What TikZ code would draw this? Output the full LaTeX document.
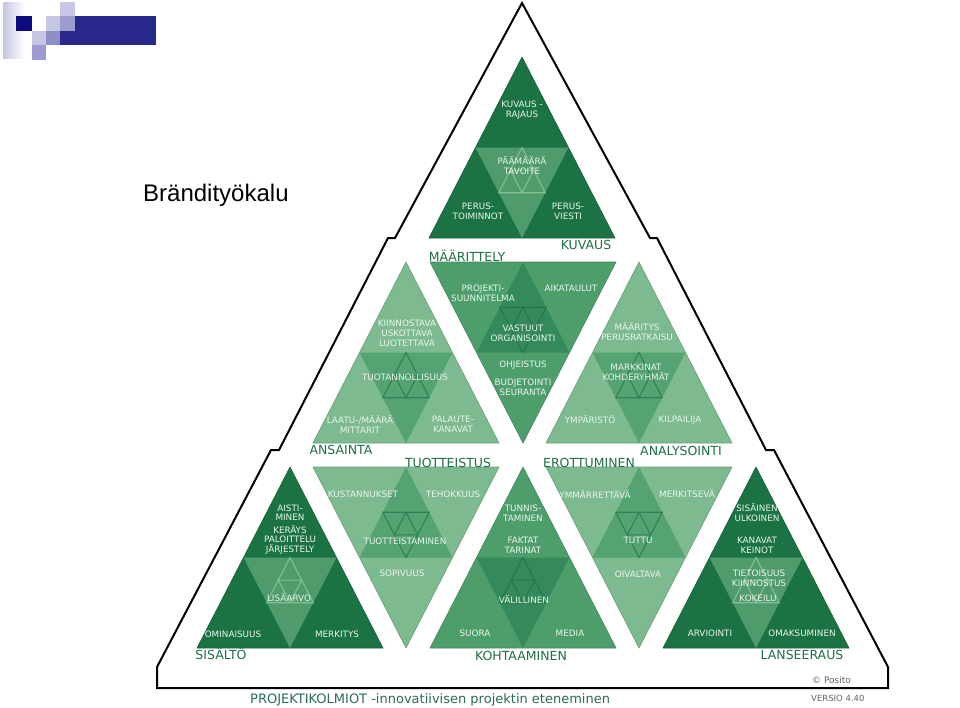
\documentclass[tikz,border=0pt]{standalone}
\usepackage{fontspec}
\setmainfont{DejaVu Sans}
\newfontfamily\arialf{Liberation Sans}
\definecolor{dk}{HTML}{1B7243}
\definecolor{dkc}{HTML}{4F9B6C}
\definecolor{dkl}{HTML}{82BF94}
\definecolor{md}{HTML}{4E9E6C}
\definecolor{mdc}{HTML}{348A5B}
\definecolor{mdl}{HTML}{25774A}
\definecolor{lt}{HTML}{7DBA8F}
\definecolor{ltc}{HTML}{55A272}
\definecolor{ltl}{HTML}{2F8253}
\definecolor{txt}{HTML}{EAF5EC}
\definecolor{lab}{HTML}{1F6F45}
\definecolor{capc}{HTML}{2C6A5C}
\definecolor{lgA}{HTML}{C6C6E5}
\definecolor{lgB}{HTML}{9C9CD0}
\definecolor{lgC}{HTML}{8F8FC8}
\definecolor{navy}{HTML}{0B0B7E}
\definecolor{barc}{HTML}{28288A}
\newcommand\TriUp[5]{%
  \fill[#3, draw=#3!85!black, line width=0.6pt] (#1,#2) -- ({#1-93},{#2+181}) -- ({#1+93},{#2+181}) -- cycle;
  \fill[#4] ({#1-46.5},{#2+90.5}) -- ({#1+46.5},{#2+90.5}) -- (#1,{#2+181}) -- cycle;
  \draw[#5, line width=1.1pt, line join=miter] (#1,{#2+90.5}) -- ({#1-23.25},{#2+135.75}) -- ({#1+23.25},{#2+135.75}) -- cycle
    ({#1-11.625},{#2+113.125}) -- ({#1+11.625},{#2+113.125}) -- (#1,{#2+135.75}) -- cycle;
}
\newcommand\TriDn[5]{%
  \fill[#3, draw=#3!85!black, line width=0.6pt] ({#1-93},#2) -- ({#1+93},#2) -- (#1,{#2+181}) -- cycle;
  \fill[#4] (#1,#2) -- ({#1-46.5},{#2+90.5}) -- ({#1+46.5},{#2+90.5}) -- cycle;
  \draw[#5, line width=1.1pt, line join=miter] ({#1-23.25},{#2+45.25}) -- ({#1+23.25},{#2+45.25}) -- (#1,{#2+90.5}) -- cycle
    (#1,{#2+45.25}) -- ({#1-11.625},{#2+67.875}) -- ({#1+11.625},{#2+67.875}) -- cycle;
}
\begin{document}
\begin{tikzpicture}[x=1pt,y=-1pt,
  intext/.style={text=txt, font=\fontsize{8.8}{10}\selectfont, align=center, inner sep=0pt},
  lbl/.style={text=lab, font=\fontsize{12.5}{14}\selectfont, anchor=base, inner sep=0pt}]
\useasboundingbox (0,0) rectangle (960,707);
\fill[white] (0,0) rectangle (960,707);
% logo
\fill[left color=lgA, right color=white] (3,2) rectangle (25,58);
\fill[navy] (16,16) rectangle (32,31);
\fill[lgA] (32,31) rectangle (46,45);
\fill[lgB] (32,45) rectangle (46,60);
\fill[lgA] (46,16) rectangle (60,31);
\fill[lgC] (46,31) rectangle (60,45);
\fill[lgA] (60,2) rectangle (75,16);
\fill[lgB] (60,16) rectangle (75,31);
\fill[barc] (75,16) rectangle (156,45);
\fill[barc] (60,31) rectangle (75,45);
\node[anchor=base west, inner sep=0pt, font=\arialf\fontsize{24}{28}\selectfont] (title) at (143,201) {Brändityökalu};
% outer frame
\draw[line width=2pt, line join=miter] (522,3) -- (395,238) -- (388,238) -- (279,450) -- (271,450) -- (157,667) -- (157,688) -- (888,688) -- (888,667) -- (774,450) -- (766,450) -- (657,238) -- (650,238) -- cycle;
% triangles
\TriUp{522}{57}{dk}{dkc}{dkl}
\TriUp{406}{262}{lt}{ltc}{ltl}
\TriDn{523}{262}{md}{mdc}{mdl}
\TriUp{639}{262}{lt}{ltc}{ltl}
\TriUp{290}{467}{dk}{dkc}{dkl}
\TriDn{406}{467}{lt}{ltc}{ltl}
\TriUp{523}{467}{md}{mdc}{mdl}
\TriDn{639}{467}{lt}{ltc}{ltl}
\TriUp{756}{467}{dk}{dkc}{dkl}
% KUVAUS texts
\node[intext] (a1) at (522,110) {KUVAUS -\\RAJAUS};
\node[intext] (a2) at (522,166) {PÄÄMÄÄRÄ\\TAVOITE};
\node[intext] (a3) at (478,211) {PERUS-\\TOIMINNOT};
\node[intext] (a4) at (568,211) {PERUS-\\VIESTI};
% MAARITTELY
\node[intext] (b1) at (483,293) {PROJEKTI-\\SUUNNITELMA};
\node[intext] (b2) at (571,288) {AIKATAULUT};
\node[intext] (b3) at (523,333) {VASTUUT\\ORGANISOINTI};
\node[intext] (b4) at (523,365) {OHJEISTUS};
\node[intext] (b5) at (523,387) {BUDJETOINTI\\SEURANTA};
% ANSAINTA
\node[intext] (c1) at (407,333) {KIINNOSTAVA\\USKOTTAVA\\LUOTETTAVA};
\node[intext] (c2) at (405,377) {TUOTANNOLLISUUS};
\node[intext] (c3) at (360,424) {LAATU-/MÄÄRÄ\\MITTARIT};
\node[intext] (c4) at (453,424) {PALAUTE-\\KANAVAT};
% ANALYSOINTI
\node[intext] (d1) at (637,332) {MÄÄRITYS\\PERUSRATKAISU};
\node[intext] (d2) at (636,372) {MARKKINAT\\KOHDERYHMÄT};
\node[intext] (d3) at (590,420) {YMPÄRISTÖ};
\node[intext] (d4) at (680,420) {KILPAILIJA};
% SISALTO
\node[intext] (e1) at (290,513) {AISTI-\\[-1.2pt]MINEN};
\node[intext] (e2) at (290,529.5) {KERÄYS};
\node[intext] (e3) at (290,545.5) {PALOITTELU\\JÄRJESTELY};
\node[intext] (e4) at (289,598) {LISÄARVO};
\node[intext] (e5) at (233,634) {OMINAISUUS};
\node[intext] (e6) at (337,634) {MERKITYS};
% TUOTTEISTUS
\node[intext] (f1) at (363,494) {KUSTANNUKSET};
\node[intext] (f2) at (453,494) {TEHOKKUUS};
\node[intext] (f3) at (405,541) {TUOTTEISTAMINEN};
\node[intext] (f4) at (402,573) {SOPIVUUS};
% KOHTAAMINEN
\node[intext] (g1) at (523,513) {TUNNIS-\\TAMINEN};
\node[intext] (g2) at (523,545) {FAKTAT\\TARINAT};
\node[intext] (g3) at (524,599) {VÄLILLINEN};
\node[intext] (g4) at (475,633) {SUORA};
\node[intext] (g5) at (570,633) {MEDIA};
% EROTTUMINEN
\node[intext] (h1) at (595,494) {YMMÄRRETTÄVÄ};
\node[intext] (h2) at (687,494) {MERKITSEVÄ};
\node[intext] (h3) at (638,540) {TUTTU};
\node[intext] (h4) at (638,574) {OIVALTAVA};
% LANSEERAUS
\node[intext] (i1) at (757,513) {SISÄINEN\\ULKOINEN};
\node[intext] (i2) at (757,545) {KANAVAT\\KEINOT};
\node[intext] (i3) at (759,578) {TIETOISUUS\\KIINNOSTUS};
\node[intext] (i4) at (758,598) {KOKEILU};
\node[intext] (i5) at (710,633) {ARVIOINTI};
\node[intext] (i6) at (802,633) {OMAKSUMINEN};
% section labels
\node[lbl] (L1) at (586,249) {KUVAUS};
\node[lbl] (L2) at (467,261) {MÄÄRITTELY};
\node[lbl] (L3) at (341,454) {ANSAINTA};
\node[lbl] (L4) at (448,467) {TUOTTEISTUS};
\node[lbl] (L5) at (589,467) {EROTTUMINEN};
\node[lbl] (L6) at (681,455) {ANALYSOINTI};
\node[lbl] (L7) at (221,659) {SISÄLTÖ};
\node[lbl] (L8) at (521,660) {KOHTAAMINEN};
\node[lbl] (L9) at (802,659) {LANSEERAUS};
% caption
\node[anchor=base west, inner sep=0pt, text=capc, font=\fontsize{13}{15}\selectfont] (cap) at (250,703) {PROJEKTIKOLMIOT -innovatiivisen projektin eteneminen};
\node[anchor=base west, inner sep=0pt, text=black!60, font=\fontsize{9}{10}\selectfont] (pos) at (812,683) {© Posito};
\node[anchor=base west, inner sep=0pt, text=black!60, font=\fontsize{8.5}{10}\selectfont] (ver) at (811,701) {VERSIO 4.40};
\end{tikzpicture}
\end{document}
